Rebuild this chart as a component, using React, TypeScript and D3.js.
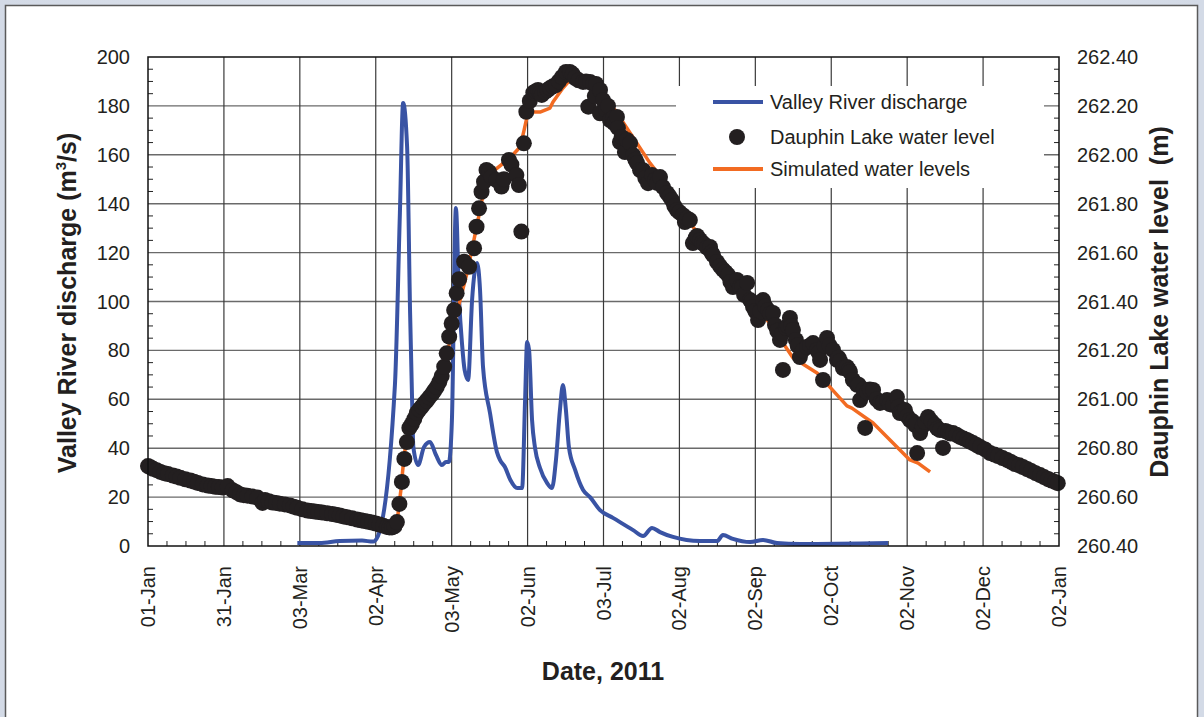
import React from "react";
import * as d3 from "d3";

// ---- Data ----
const tickLabels = ["01-Jan", "31-Jan", "03-Mar", "02-Apr", "03-May", "02-Jun", "03-Jul", "02-Aug", "02-Sep", "02-Oct", "02-Nov", "02-Dec", "02-Jan"];
const tickDays = [0, 30.5, 61, 91.5, 122, 152.5, 183, 213.5, 244, 274.5, 305, 335.5, 366];
const leftTicks = [0, 20, 40, 60, 80, 100, 120, 140, 160, 180, 200];
const rightTicks = [260.4, 260.6, 260.8, 261.0, 261.2, 261.4, 261.6, 261.8, 262.0, 262.2, 262.4];

// Valley River discharge, [day of year offset, m3/s]
const discharge: [number, number][] = [
  [60, 1.2], [69, 1.2], [77, 2], [86, 2.2], [90.4, 1.8], [92.4, 4.1], [99.2, 65.8], [101.2, 136.2], [102.5, 181.2],
  [104.1, 163.2], [105.3, 95.3], [106.1, 59.7], [106.6, 40.5], [108.5, 33.1], [110.9, 40.5], [113.3, 42.5],
  [115.7, 37.2], [118.1, 33.1], [119.7, 34.4], [120.9, 34.4], [122.1, 51.5], [123.7, 138.2], [125, 100.6],
  [126.2, 82.2], [127.2, 72], [128.6, 67.9], [130.2, 100.6], [132.2, 115.7], [133.4, 104.7], [134.6, 73.2],
  [137.4, 54.4], [140.2, 38.4], [141.4, 35.2], [143.4, 32.3], [145.6, 27], [148.3, 23.7], [150.3, 23.7],
  [151.5, 59.7], [152.3, 83.4], [153.1, 80.2], [154.3, 51.5], [155.5, 40.1], [157.5, 31.9], [160.3, 25.8],
  [162.3, 23.7], [163.9, 35.2], [165.5, 55.6], [166.7, 65.8], [167.9, 55.6], [169.1, 40.5], [171.6, 31.1],
  [174.8, 22.9], [177.6, 20], [181.6, 14.7], [186.8, 11.5], [194.9, 6.5], [198.9, 4.1], [202.5, 7.4],
  [205.7, 5.7], [210.9, 3.7], [221.8, 2], [228.6, 2], [231, 4.5], [235, 2.9], [241.9, 1.6], [247.1, 2.5],
  [252.7, 1.2], [262, 0.8], [297.3, 1.2],
];

// Dauphin Lake water level observations, [day, m]
const lakeLevel: [number, number][] = [
  // January - early April
  [0, 260.727], [1, 260.722], [2, 260.716], [3.5, 260.71], [5, 260.703], [6.5, 260.698], [8, 260.694], [10, 260.688],
  [11.5, 260.684], [13, 260.679], [15, 260.673], [17, 260.668], [18.5, 260.663], [20, 260.658], [22, 260.652],
  [24, 260.647], [25.5, 260.645], [27, 260.642], [28.5, 260.641], [30, 260.639], [32, 260.645], [34, 260.628],
  [35.5, 260.62], [37, 260.611], [38.5, 260.608], [40, 260.606], [42, 260.602], [44, 260.598], [46, 260.576],
  [47, 260.588], [48.5, 260.583], [50, 260.578], [51.5, 260.576], [53, 260.573], [55, 260.57], [57, 260.566],
  [58.5, 260.561], [60, 260.556], [62, 260.55], [64, 260.545], [65.5, 260.543], [67, 260.541], [68.5, 260.539],
  [70, 260.537], [72, 260.534], [74, 260.531], [75.5, 260.528], [77, 260.525], [78.5, 260.521], [80, 260.518],
  [82, 260.513], [84, 260.508], [85.5, 260.505], [87, 260.502], [88.5, 260.499], [90, 260.496], [91.5, 260.492],
  [93, 260.488], [94.5, 260.483], [96, 260.478], [97, 260.476], [98, 260.476], [99, 260.48],
  // spring rise
  [100, 260.498], [101, 260.572], [102, 260.662], [103, 260.756], [104, 260.825], [105, 260.883], [106, 260.899],
  [107, 260.92], [108, 260.944], [109, 260.958], [110, 260.97], [111, 260.983], [112, 260.995], [113, 261.008],
  [114, 261.02], [115, 261.035], [116, 261.05], [117, 261.07], [118, 261.095], [119, 261.133], [120, 261.188],
  [121, 261.256], [122, 261.31], [123, 261.365], [124, 261.434], [125, 261.491], [127, 261.563],
  [129, 261.542], [131, 261.618], [132, 261.706], [133, 261.781], [134, 261.849], [135, 261.89], [136, 261.938],
  [137, 261.93], [138, 261.91], [140, 261.897], [142, 261.87], [143, 261.9], [145, 261.979], [146, 261.96],
  [148, 261.917], [149, 261.876], [150, 261.686], [151, 262.047], [152, 262.176], [153.4, 262.22], [154.8, 262.254],
  [155.8, 262.26], [156.7, 262.265], [157.5, 262.25], [158.2, 262.245], [159.5, 262.257], [160.5, 262.265],
  [161.5, 262.273], [162.7, 262.28], [163.9, 262.285], [165, 262.3], [166.3, 262.318], [167.9, 262.339],
  [169.5, 262.339], [170.6, 262.33], [171.6, 262.314], [173, 262.305], [174.8, 262.298], [176, 262.3],
  [176.9, 262.197], [177.6, 262.298], [178.8, 262.29], [179.5, 262.24], [180, 262.29],
  // summer / autumn decline
  [181.6, 262.265], [181.6, 262.17], [182.8, 262.224], [184, 262.183], [184.8, 262.2], [185.6, 262.142],
  [186.8, 262.15], [187.2, 262.13], [188.4, 262.155], [188.8, 262.11], [189.6, 262.052], [190.3, 262.073],
  [191.6, 262.011], [192.4, 262.061], [193.7, 262.048], [194.9, 261.999], [195.8, 261.98], [196.5, 261.966],
  [197.7, 261.937], [198.9, 261.937], [199.8, 261.905], [200.9, 261.884], [202.5, 261.917], [203.7, 261.897],
  [204.5, 261.885], [205.7, 261.909], [206.9, 261.868], [208.5, 261.844], [209.5, 261.83], [210.5, 261.815],
  [211.5, 261.79], [212.5, 261.774], [213.5, 261.765], [214.9, 261.753], [215.7, 261.725], [216.5, 261.74],
  [217.7, 261.733], [218.9, 261.639], [220, 261.66], [220.6, 261.668], [221.8, 261.652], [222.6, 261.64],
  [223.4, 261.635], [224.6, 261.62], [225.8, 261.623], [226.4, 261.6], [227, 261.59], [228.6, 261.562],
  [229.8, 261.545], [231, 261.53], [232, 261.52], [233, 261.509], [234, 261.48], [235, 261.459], [236.6, 261.488],
  [237.8, 261.459], [238.8, 261.46], [239.5, 261.427], [240.7, 261.476], [241.9, 261.406], [242.5, 261.4],
  [243.1, 261.378], [244, 261.36], [245.1, 261.324], [246, 261.36], [247.1, 261.406], [248, 261.38],
  [249.1, 261.365], [250, 261.35], [251.1, 261.353], [251.9, 261.304], [252.8, 261.28], [253.9, 261.243],
  [254.8, 261.27], [255.1, 261.12], [256.3, 261.292], [257, 261.3], [257.9, 261.333], [258.5, 261.3],
  [259.1, 261.283], [260.3, 261.243], [261, 261.22], [261.9, 261.173], [263, 261.2], [264.8, 261.214],
  [266, 261.22], [267.2, 261.23], [268.8, 261.202], [269.5, 261.19], [270, 261.161], [271.2, 261.079],
  [271.8, 261.22], [272.8, 261.251], [273.8, 261.22], [275.2, 261.202], [276.8, 261.161], [277.4, 261.17],
  [278, 261.157], [279.2, 261.128], [280.8, 261.132], [281.6, 261.12], [282, 261.112], [283.2, 261.079],
  [284.9, 261.059], [285.5, 261.06], [286.1, 260.997], [287.5, 261.04], [288.1, 260.883], [288.9, 261.03],
  [290, 261.04], [291.3, 261.038], [292.7, 261.0], [294.1, 260.985], [295.5, 260.99], [296.9, 260.997],
  [298, 260.98], [299.3, 260.977], [300.9, 261.009], [301.5, 260.97], [302.1, 260.944], [303.1, 260.95],
  [304.1, 260.956], [305.1, 260.93], [306.1, 260.915], [307.2, 260.91], [308.2, 260.895], [309, 260.78],
  [310.2, 260.862], [311.2, 260.89], [312.2, 260.907], [313.4, 260.928], [314.8, 260.91], [316.2, 260.895],
  [317.2, 260.88], [318.2, 260.874], [319.4, 260.801], [320.4, 260.87], [321.4, 260.866], [322.4, 260.86],
  [323.4, 260.862], [324.8, 260.855], [326.2, 260.846], [327.6, 260.84], [329, 260.834], [330.2, 260.827],
  [331.5, 260.821], [332.9, 260.813], [334.3, 260.805], [336.3, 260.795], [338.3, 260.78], [340, 260.774],
  [341.5, 260.768], [343.3, 260.76], [345.1, 260.752], [346.7, 260.744], [348.3, 260.735], [350, 260.73],
  [351.5, 260.723], [353.2, 260.715], [354.8, 260.707], [356.6, 260.698], [358.4, 260.69], [360, 260.682],
  [361.6, 260.674], [363, 260.668], [364.4, 260.662], [365.5, 260.657],
];

// Simulated water levels, [day, m]
const simulatedLevel: [number, number][] = [
  [99.2, 260.486], [100.4, 260.527], [101.6, 260.629], [102.9, 260.772], [104, 260.834], [106.1, 260.895],
  [109.3, 260.964], [113.3, 261.03], [117.3, 261.099], [120.5, 261.202], [123.3, 261.324], [128.2, 261.517],
  [132.2, 261.713], [135.4, 261.877], [139.4, 261.938], [145.4, 261.987], [149.5, 262.032], [151.1, 262.101],
  [152.7, 262.175], [157.5, 262.175], [161.5, 262.191], [162.7, 262.216], [166.7, 262.273], [169.5, 262.306],
  [172.8, 262.298], [177.6, 262.273], [182.8, 262.236], [187.6, 262.183], [193.7, 262.089], [201.7, 261.966],
  [208.5, 261.876], [219, 261.705], [228.6, 261.57], [241.9, 261.418], [251.1, 261.292], [259.1, 261.17],
  [268.8, 261.108], [276.8, 261.018], [280.8, 260.973], [282.8, 260.964], [291.3, 260.903], [306.1, 260.752],
  [309.4, 260.739], [314.2, 260.703],
];

// ---- Layout ----
const W = 1204, H = 717;
const L = 148, R = 1059, T = 57, B = 546;
const FONT = "'Liberation Sans', Arial, Helvetica, sans-serif";
const TXT = "#231f20";
const BLUE = "#3953a4";
const ORANGE = "#f26b22";

export default function App() {
  const x = d3.scaleLinear().domain([0, 366]).range([L, R]);
  const yL = d3.scaleLinear().domain([0, 200]).range([B, T]);
  const yR = d3.scaleLinear().domain([260.4, 262.4]).range([B, T]);

  const blueLine = d3.line<[number, number]>().x(d => x(d[0])).y(d => yL(d[1])).curve(d3.curveMonotoneX);
  const orangeLine = d3.line<[number, number]>().x(d => x(d[0])).y(d => yR(d[1]));

  const xMinor = d3.range(0, 48).map(i => (i * 30.5) / 4).filter((_, i) => i % 4 !== 0);
  const yMinor = d3.range(0, 200, 5).filter(v => v % 20 !== 0);
  const rMinor = d3.range(0, 40).map(i => 260.4 + i * 0.05).filter((_, i) => i % 4 !== 0);

  return (
    <svg width={W} height={H} style={{ position: "fixed", left: 0, top: 0, display: "block" }} fontFamily={FONT}>
      <defs>
        <linearGradient id="bg" x1="0" y1="0" x2="1" y2="0">
          <stop offset="0" stopColor="#d3dae6" />
          <stop offset="0.5" stopColor="#e6eaf1" />
          <stop offset="1" stopColor="#d3dae6" />
        </linearGradient>
      </defs>
      <rect x={0} y={0} width={W} height={H} fill="url(#bg)" />
      <rect x={5.5} y={5.5} width={1192} height={730} fill="#fff" stroke="#5a5a5a" strokeWidth={1.5} />

      {/* gridlines */}
      {leftTicks.slice(1, -1).map(v => (
        <line key={"hg" + v} x1={L} x2={R} y1={yL(v)} y2={yL(v)} stroke="#6a6a6a" strokeWidth={1.4} />
      ))}
      {tickDays.slice(1, -1).map(d => (
        <line key={"vg" + d} x1={x(d)} x2={x(d)} y1={T} y2={B} stroke="#3a3a3a" strokeWidth={1.2} />
      ))}

      {/* minor ticks */}
      {xMinor.map(d => (
        <line key={"xm" + d} x1={x(d)} x2={x(d)} y1={B} y2={B - 5} stroke="#222" strokeWidth={1} />
      ))}
      {yMinor.map(v => (
        <line key={"ym" + v} x1={L} x2={L + 5} y1={yL(v)} y2={yL(v)} stroke="#222" strokeWidth={1} />
      ))}
      {rMinor.map(v => (
        <line key={"rm" + v} x1={R} x2={R - 5} y1={yR(v)} y2={yR(v)} stroke="#222" strokeWidth={1} />
      ))}

      {/* series */}
      <path d={blueLine(discharge) || ""} fill="none" stroke={BLUE} strokeWidth={4} strokeLinejoin="round" />
      <path d={orangeLine(simulatedLevel) || ""} fill="none" stroke={ORANGE} strokeWidth={3.5} strokeLinejoin="round" />
      {lakeLevel.map((d, i) => (
        <circle key={"lk" + i} cx={x(d[0])} cy={yR(d[1])} r={8} fill="#231f20" />
      ))}

      {/* frame */}
      <rect x={L} y={T} width={R - L} height={B - T} fill="none" stroke="#111" strokeWidth={1.5} />

      {/* legend */}
      <rect x={676} y={86} width={368} height={102} fill="#fff" />
      <line x1={713} x2={763} y1={102} y2={102} stroke={BLUE} strokeWidth={4} />
      <text x={770} y={102} dy="0.35em" fontSize={20} fill={TXT}>Valley River discharge</text>
      <circle cx={737} cy={137} r={8} fill="#231f20" />
      <text x={770} y={137} dy="0.35em" fontSize={20} fill={TXT}>Dauphin Lake water level</text>
      <line x1={713} x2={763} y1={169} y2={169} stroke={ORANGE} strokeWidth={4} />
      <text x={770} y={169} dy="0.35em" fontSize={20} fill={TXT}>Simulated water levels</text>

      {/* left axis labels */}
      {leftTicks.map(v => (
        <text key={"lt" + v} x={130} y={yL(v)} dy="0.35em" textAnchor="end" fontSize={20} fill={TXT}>{v}</text>
      ))}
      {/* right axis labels */}
      {rightTicks.map(v => (
        <text key={"rt" + v} x={1077} y={yR(v)} dy="0.35em" textAnchor="start" fontSize={20} fill={TXT}>{v.toFixed(2)}</text>
      ))}
      {/* bottom labels */}
      {tickDays.map((d, i) => (
        <text key={"bt" + d} transform={`translate(${x(d)},566) rotate(-90)`} dy="0.35em" textAnchor="end" fontSize={20} fill={TXT}>
          {tickLabels[i]}
        </text>
      ))}

      {/* axis titles */}
      <text x={603} y={680} textAnchor="middle" fontSize={25} fontWeight="bold" fill={TXT}>Date, 2011</text>
      <text transform="translate(76,303) rotate(-90)" textAnchor="middle" fontSize={25} fontWeight="bold" fill={TXT}>
        Valley River discharge (m<tspan dy={-10} fontSize={15}>3</tspan><tspan dy={10}>/s)</tspan>
      </text>
      <text transform="translate(1168,302) rotate(-90)" textAnchor="middle" fontSize={25} fontWeight="bold" fill={TXT}>
        {"Dauphin Lake water level\u00a0 (m)"}
      </text>
    </svg>
  );
}
